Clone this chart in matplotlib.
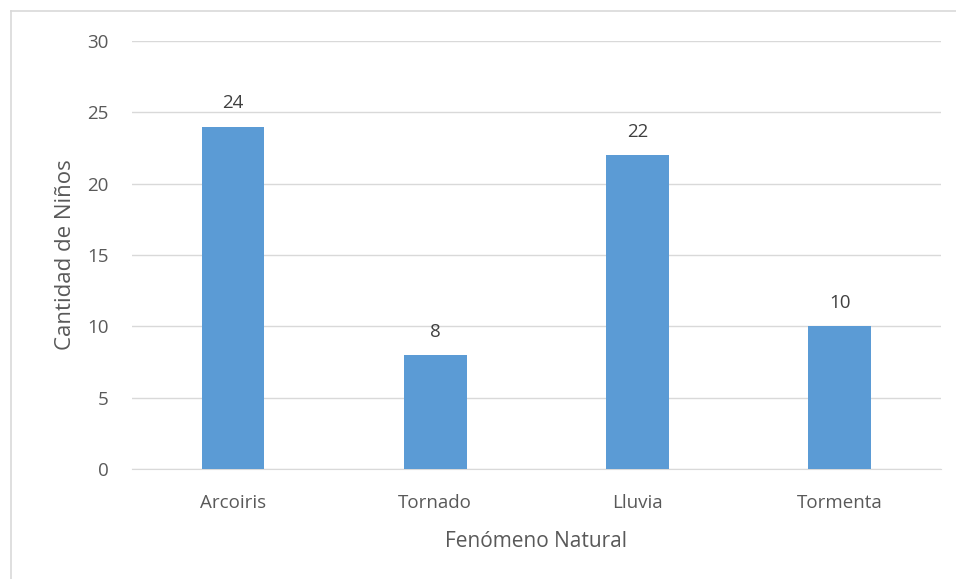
import matplotlib.pyplot as plt
from matplotlib.lines import Line2D

categorias = ['Arcoiris', 'Tornado', 'Lluvia', 'Tormenta']
ninos = [24, 8, 22, 10]

plt.rcParams['font.family'] = ['Open Sans', 'DejaVu Sans']
gris = '#595959'

fig = plt.figure(figsize=(9.56, 5.79), dpi=100)
ax = fig.add_axes([0.138, 0.19, 0.846, 0.739])

x = range(len(categorias))
barras = ax.bar(x, ninos, width=0.31, color='#5b9bd5', zorder=3)
for b, v in zip(barras, ninos):
    ax.text(b.get_x() + b.get_width() / 2, v + 1.0, str(v),
            ha='center', va='bottom', fontsize=13.5, color='#404040')

ax.set_xlim(-0.5, len(categorias) - 0.5)
ax.set_ylim(0, 30)
ax.set_yticks(range(0, 31, 5))
ax.set_xticks(list(x))
ax.set_xticklabels(categorias)
ax.yaxis.grid(True, color='#d9d9d9', linewidth=1, zorder=0)
for s in ['top', 'right', 'left']:
    ax.spines[s].set_visible(False)
ax.spines['bottom'].set_color('#d9d9d9')
ax.tick_params(axis='both', length=0, labelsize=13.5, colors=gris)
ax.tick_params(axis='y', pad=17)
ax.tick_params(axis='x', pad=18)

ax.set_xlabel('Fenómeno Natural', fontsize=15, color=gris, labelpad=14)
ax.set_ylabel('Cantidad de Niños', fontsize=16, color=gris, labelpad=8)

# marco exterior del gráfico
fig.add_artist(Line2D([0.0115, 0.0115], [0, 0.981], color='#d9d9d9', lw=1.2,
                      transform=fig.transFigure))
fig.add_artist(Line2D([0.0115, 1], [0.981, 0.981], color='#d9d9d9', lw=1.2,
                      transform=fig.transFigure))

fig.savefig('out.png', dpi=100)
